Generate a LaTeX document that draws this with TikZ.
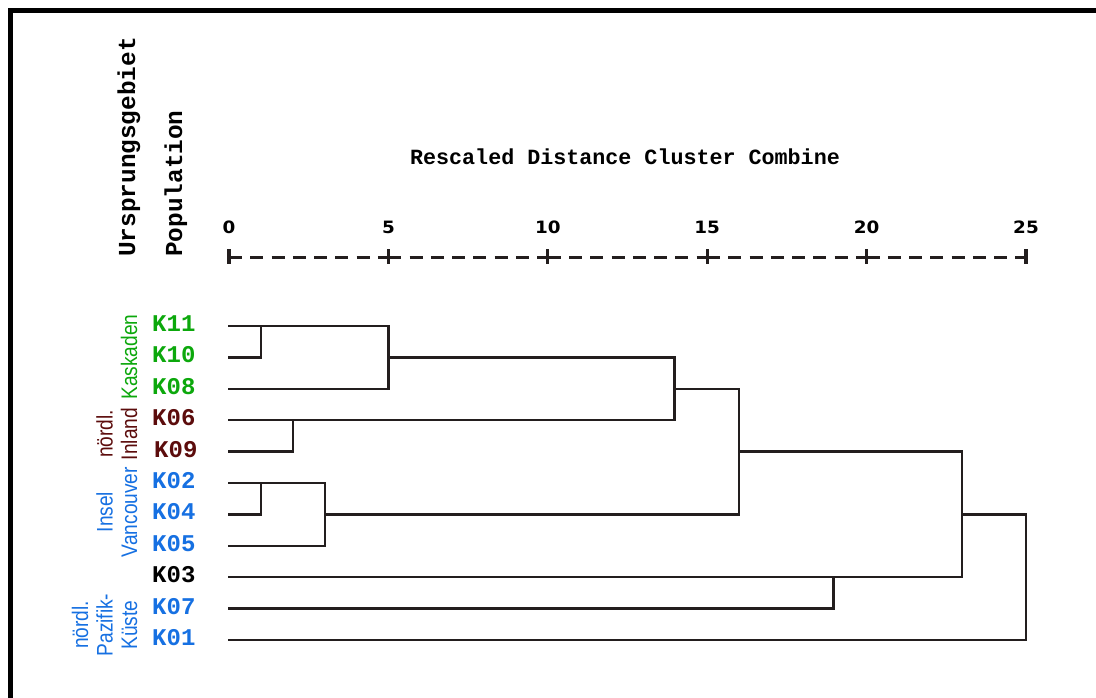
\documentclass[tikz,border=0pt]{standalone}
\usepackage{fontspec}
\setmainfont{Liberation Sans}
\newfontfamily\courfont{Liberation Mono}
\newfontfamily\narrowfont{Liberation Sans}[FakeStretch=0.85]
\newfontfamily\numfont{DejaVu Sans}[FakeStretch=1.08]
\definecolor{kgreen}{RGB}{12,168,12}
\definecolor{kbrown}{RGB}{92,12,12}
\definecolor{kblue}{RGB}{22,112,226}
\definecolor{linec}{RGB}{35,30,30}
\tikzset{
  leaf/.style={font=\courfont\bfseries\fontsize{24}{24}\selectfont, anchor=base west, inner sep=0pt},
  hdr/.style={font=\courfont\bfseries\fontsize{24.4}{24.4}\selectfont, rotate=90, anchor=base west, inner sep=0pt},
  ttl/.style={font=\courfont\bfseries\fontsize{21.7}{21.7}\selectfont, anchor=base, inner sep=0pt},
  num/.style={font=\numfont\bfseries\fontsize{17}{17}\selectfont, anchor=base, inner sep=0pt},
  region/.style={font=\narrowfont\fontsize{22.5}{24.5}\selectfont, rotate=90, anchor=south, align=center, inner sep=0pt},
  dendro/.style={draw=linec, line width=2.5pt, line cap=rect, line join=miter},
  axisdash/.style={draw=linec, line width=3pt, dash pattern=on 13pt off 8.25pt},
  tickmark/.style={draw=linec, line width=3.2pt},
}
\begin{document}
\begin{tikzpicture}[x=1pt,y=-1pt]
\useasboundingbox (0,0) rectangle (1096,698);
\fill[white] (0,0) rectangle (1096,698);
% frame
\draw[line width=5.3pt, line join=miter] (10.2,720) -- (10.2,10.3) -- (1120,10.3);

% headers
\node[hdr] (ursp) at (135,257) {Ursprungsgebiet};
\node[hdr] (popu) at (182,257) {Population};
\node[ttl] (title) at (625,165) {Rescaled Distance Cluster Combine};

% axis
\foreach \i/\lab in {0/0,1/5,2/10,3/15,4/20,5/25}{
  \coordinate (a\i) at ({229+159.4*\i},257);
  \coordinate (at\i) at ({229+159.4*\i},249);
  \coordinate (ab\i) at ({229+159.4*\i},264);
  \node[num] (n\i) at ({229+159.4*\i},233.8) {\lab};
  \draw[tickmark] (at\i) -- (ab\i);
}
\foreach \i [evaluate=\i as \j using int(\i+1)] in {0,...,4}{
  \draw[axisdash] (a\i) -- (a\j);
}

% leaves
\def\YA{326}\def\YB{357.4}\def\YC{388.8}\def\YD{420.2}\def\YE{451.6}
\def\YF{483}\def\YG{514.4}\def\YH{545.8}\def\YI{577.2}\def\YJ{608.6}\def\YK{640}
\node[leaf, text=kgreen] (K11) at (152,\YA+5.5) {K11};
\node[leaf, text=kgreen] (K10) at (152,\YB+5.5) {K10};
\node[leaf, text=kgreen] (K08) at (152,\YC+5.5) {K08};
\node[leaf, text=kbrown] (K06) at (152,\YD+5.5) {K06};
\node[leaf, text=kbrown] (K09) at (154,\YE+5.5) {K09};
\node[leaf, text=kblue] (K02) at (152,\YF+5.5) {K02};
\node[leaf, text=kblue] (K04) at (152,\YG+5.5) {K04};
\node[leaf, text=kblue] (K05) at (152,\YH+5.5) {K05};
\node[leaf, text=black] (K03) at (152,\YI+5.5) {K03};
\node[leaf, text=kblue] (K07) at (152,\YJ+5.5) {K07};
\node[leaf, text=kblue] (K01) at (152,\YK+5.5) {K01};

% regions
\node[region, text=kgreen] (kask) at (137.5,357) {Kaskaden};
\node[region, text=kbrown] (inl) at (137.5,434) {nördl.\\Inland};
\node[region, text=kblue] (vanc) at (137.5,512) {Insel\\Vancouver};
\node[region, text=kblue] (pazi) at (137.5,625) {nördl.\\Pazifik-\\Küste};

% dendrogram
\coordinate (s0) at (229,\YA); \coordinate (s1) at (229,\YB);
\coordinate (s2) at (229,\YC); \coordinate (s3) at (229,\YD);
\coordinate (s4) at (229,\YE); \coordinate (s5) at (229,\YF);
\coordinate (s6) at (229,\YG); \coordinate (s7) at (229,\YH);
\coordinate (s8) at (229,\YI); \coordinate (s9) at (229,\YJ);
\coordinate (s10) at (229,\YK);

\coordinate (c1) at (261,\YA);
\coordinate (c5b) at (388.4,\YC);
\coordinate (c5) at (388.4,\YB);
\coordinate (c14) at (674.5,\YD);
\coordinate (c2) at (293,\YD);
\coordinate (c14m) at (674.5,\YC);
\coordinate (c16) at (739,\YG);
\coordinate (c1b) at (261,\YF);
\coordinate (c3) at (325,\YH);
\coordinate (c3m) at (325,\YG);
\coordinate (c16m) at (739,\YE);
\coordinate (c23) at (962,\YI);
\coordinate (c19) at (833.5,\YI);
\coordinate (c23m) at (962,\YG);
\coordinate (c25) at (1026,\YK);

\draw[dendro] (s1) -| (c1);
\draw[dendro] (s0) -| (c5b);
\draw[dendro] (s2) -- (c5b);
\draw[dendro] (c5) -| (c14);
\draw[dendro] (s3) -- (c14);
\draw[dendro] (s4) -| (c2);
\draw[dendro] (c14m) -| (c16);
\draw[dendro] (s6) -| (c1b);
\draw[dendro] (s5) -| (c3);
\draw[dendro] (s7) -- (c3);
\draw[dendro] (c3m) -- (c16);
\draw[dendro] (c16m) -| (c23);
\draw[dendro] (s8) -- (c23);
\draw[dendro] (s9) -| (c19);
\draw[dendro] (c23m) -| (c25);
\draw[dendro] (s10) -- (c25);
\end{tikzpicture}
\end{document}
